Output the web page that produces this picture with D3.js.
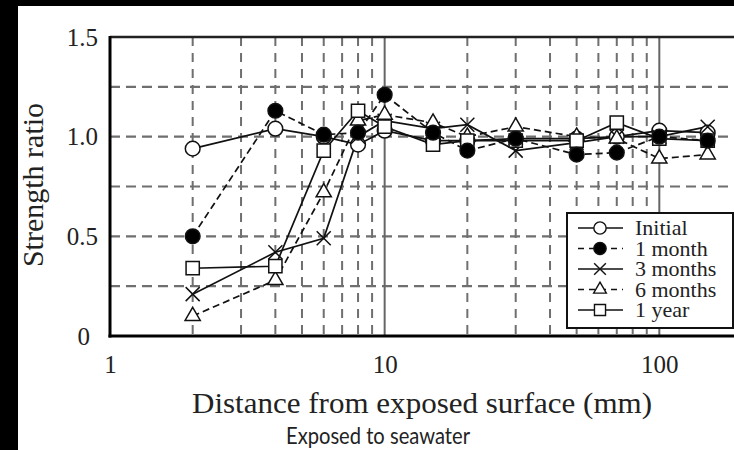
<!DOCTYPE html>
<html>
<head>
<meta charset="utf-8">
<script src="https://cdn.jsdelivr.net/npm/d3@7"></script>
<style>
  html, body { margin: 0; padding: 0; background: #000; }
  svg { display: block; }
</style>
</head>
<body>
<div id="chart"></div>
<script>
// ---------------------------------------------------------------
// data
// ---------------------------------------------------------------
const distances = [2, 4, 6, 8, 10, 15, 20, 30, 50, 70, 100, 150];

const initialRatio = [0.94, 1.04, 1.00, 0.96, 1.03, 0.98, 0.98, 0.99, 0.99, 1.00, 1.03, 1.02];
const oneMonth     = [0.50, 1.13, 1.01, 1.02, 1.21, 1.02, 0.93, 0.99, 0.91, 0.92, 1.00, 0.98];
const threeMonths  = [0.21, 0.42, 0.49, 1.00, 1.08, 1.04, 1.06, 0.93, 0.97, 1.00, 1.00, 1.05];
const sixMonths    = [0.10, 0.28, 0.72, 1.08, 1.11, 1.07, 1.00, 1.05, 1.00, 0.99, 0.89, 0.91];
const oneYear      = [0.34, 0.35, 0.93, 1.13, 1.05, 0.96, 0.98, 0.98, 0.98, 1.07, 0.99, 0.98];

const seriesNames = ["Initial", "1 month", "3 months", "6 months", "1 year"];

const xTicks = [1, 10, 100];
const yTicks = [0, 0.5, 1.0, 1.5];
const yGrid = [0.25, 0.5, 0.75, 1.0, 1.25];
const xGridDashed = [2, 3, 4, 5, 6, 7, 8, 9, 20, 30, 40, 50, 60, 70, 80, 90, 200];
const xGridSolid = [10, 100];

// ---------------------------------------------------------------
// setup
// ---------------------------------------------------------------
const W = 734, H = 450;
const plot = { left: 110, top: 37, right: 742, bottom: 336 };
const serif = "'Liberation Serif', 'Times New Roman', serif";

const svg = d3.select("#chart").append("svg")
    .attr("width", W)
    .attr("height", H);

svg.append("rect").attr("width", W).attr("height", H).attr("fill", "#000");
svg.append("rect").attr("x", 18).attr("y", 6).attr("width", W - 18).attr("height", H - 6).attr("fill", "#fff");

const x = d3.scaleLog().domain([1, 200]).range([plot.left, plot.right]);
const y = d3.scaleLinear().domain([0, 1.5]).range([plot.bottom, plot.top]);

// ---------------------------------------------------------------
// grid
// ---------------------------------------------------------------
const grid = svg.append("g");

grid.selectAll("line.h")
    .data(yGrid)
    .join("line")
    .attr("x1", plot.left).attr("x2", plot.right)
    .attr("y1", d => y(d)).attr("y2", d => y(d))
    .attr("stroke", "#6f6f6f")
    .attr("stroke-width", 2.2)
    .attr("stroke-dasharray", "10,6");

grid.selectAll("line.vd")
    .data(xGridDashed)
    .join("line")
    .attr("x1", d => x(d)).attr("x2", d => x(d))
    .attr("y1", plot.top).attr("y2", plot.bottom)
    .attr("stroke", "#6f6f6f")
    .attr("stroke-width", 2)
    .attr("stroke-dasharray", "9,7");

grid.selectAll("line.vs")
    .data(xGridSolid)
    .join("line")
    .attr("x1", d => x(d)).attr("x2", d => x(d))
    .attr("y1", plot.top).attr("y2", plot.bottom)
    .attr("stroke", "#666")
    .attr("stroke-width", 2);

// frame
svg.append("line")
    .attr("x1", plot.left).attr("x2", W).attr("y1", plot.top).attr("y2", plot.top)
    .attr("stroke", "#222").attr("stroke-width", 2.5);
svg.append("line")
    .attr("x1", plot.left).attr("x2", plot.left).attr("y1", plot.top - 1).attr("y2", plot.bottom + 1.5)
    .attr("stroke", "#000").attr("stroke-width", 3);
svg.append("line")
    .attr("x1", plot.left - 1.5).attr("x2", W).attr("y1", plot.bottom).attr("y2", plot.bottom)
    .attr("stroke", "#000").attr("stroke-width", 3);

// ---------------------------------------------------------------
// axes (labels only)
// ---------------------------------------------------------------
const xAxis = svg.append("g")
    .attr("transform", `translate(0,${plot.bottom})`)
    .call(d3.axisBottom(x).tickValues(xTicks).tickFormat(d3.format("d")).tickSize(0).tickPadding(19));
xAxis.select(".domain").remove();
xAxis.selectAll("text")
    .attr("font-family", serif).attr("font-size", 25).attr("fill", "#222")
    .attr("dy", "0.71em");

const yAxis = svg.append("g")
    .attr("transform", `translate(${plot.left},0)`)
    .call(d3.axisLeft(y).tickValues(yTicks).tickFormat(d => d === 0 ? "0" : d3.format(".1f")(d)).tickSize(0).tickPadding(12));
yAxis.select(".domain").remove();
yAxis.selectAll("text")
    .attr("font-family", serif).attr("font-size", 25).attr("fill", "#222")
    .attr("dx", d => d === 0 ? -8 : 0);

// titles
svg.append("text")
    .attr("x", 422).attr("y", 413)
    .attr("text-anchor", "middle")
    .attr("font-family", serif).attr("font-size", 29).attr("fill", "#222")
    .attr("textLength", 460).attr("lengthAdjust", "spacingAndGlyphs")
    .text("Distance from exposed surface (mm)");

svg.append("text")
    .attr("transform", "translate(43,185) rotate(-90)")
    .attr("text-anchor", "middle")
    .attr("font-family", serif).attr("font-size", 30).attr("fill", "#222")
    .text("Strength ratio");

svg.append("text")
    .attr("x", 378).attr("y", 444)
    .attr("text-anchor", "middle")
    .attr("font-family", "'Liberation Sans Narrow', Lato, sans-serif").attr("font-size", 23).attr("fill", "#222")
    .attr("textLength", 184).attr("lengthAdjust", "spacingAndGlyphs")
    .text("Exposed to seawater");

// ---------------------------------------------------------------
// series
// ---------------------------------------------------------------
const series = [
    { name: seriesNames[0], values: initialRatio, dash: null,  symbol: d3.symbolCircle,   size: 170, fill: "#fff" },
    { name: seriesNames[1], values: oneMonth,     dash: "7,4", symbol: d3.symbolCircle,   size: 170, fill: "#000" },
    { name: seriesNames[2], values: threeMonths,  dash: null,  symbol: d3.symbolTimes,    size: 130, fill: "none" },
    { name: seriesNames[3], values: sixMonths,    dash: "7,4", symbol: d3.symbolTriangle, size: 100, fill: "#fff" },
    { name: seriesNames[4], values: oneYear,      dash: null,  symbol: d3.symbolSquare,   size: 175, fill: "#fff" }
];

const line = d3.line()
    .x(d => x(d[0]))
    .y(d => y(d[1]));

const lines = svg.append("g").attr("fill", "none");
series.forEach(s => {
    lines.append("path")
        .attr("d", line(distances.map((d, i) => [d, s.values[i]])))
        .attr("stroke", "#111")
        .attr("stroke-width", 1.7)
        .attr("stroke-dasharray", s.dash);
});

// draw markers so the later ones sit on top, like the original
const markerOrder = [0, 2, 3, 4, 1];
const markers = svg.append("g");
markerOrder.forEach(k => {
    const s = series[k];
    markers.selectAll(null)
        .data(distances.map((d, i) => [d, s.values[i]]))
        .join("path")
        .attr("transform", d => `translate(${x(d[0])},${y(d[1])})`)
        .attr("d", d3.symbol().type(s.symbol).size(s.size))
        .attr("fill", s.fill)
        .attr("stroke", "#111")
        .attr("stroke-width", 1.5);
});

// ---------------------------------------------------------------
// legend
// ---------------------------------------------------------------
const legend = svg.append("g").attr("transform", "translate(567,213)");
legend.append("rect")
    .attr("width", 166).attr("height", 115)
    .attr("fill", "#fff").attr("stroke", "#111").attr("stroke-width", 2);

const rows = legend.selectAll("g.row")
    .data(series)
    .join("g")
    .attr("transform", (d, i) => `translate(0,${15 + i * 20.5})`);

rows.append("line")
    .attr("x1", 11).attr("x2", 56)
    .attr("stroke", "#111").attr("stroke-width", 1.6)
    .attr("stroke-dasharray", d => d.dash ? "6,5" : null);

rows.append("path")
    .attr("transform", "translate(33,0)")
    .attr("d", d => d3.symbol().type(d.symbol).size(d.size * 0.7)())
    .attr("fill", d => d.fill)
    .attr("stroke", "#111").attr("stroke-width", 1.4);

rows.append("text")
    .attr("x", 68).attr("y", 7)
    .attr("font-family", serif).attr("font-size", 22).attr("fill", "#222")
    .text(d => d.name);
</script>
</body>
</html>
